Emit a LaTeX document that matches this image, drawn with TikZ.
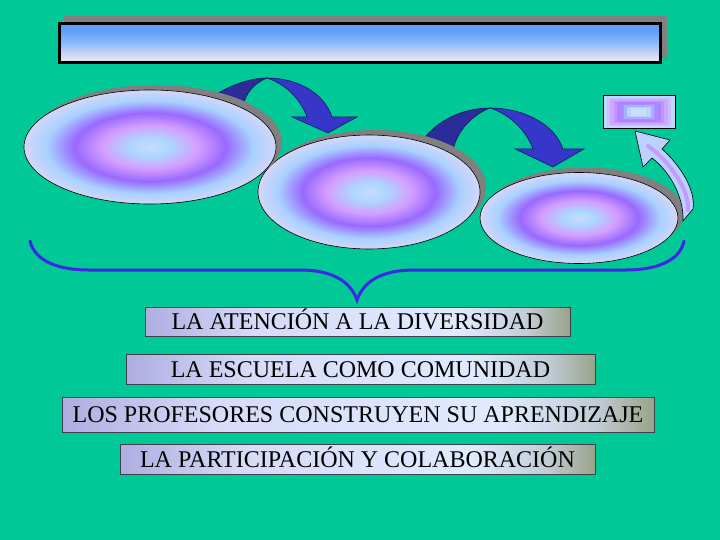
\documentclass[tikz,border=0pt]{standalone}
\usepackage{fontspec}
\setmainfont{Liberation Serif}
\usetikzlibrary{shapes.geometric,calc}
\definecolor{bg}{RGB}{0,200,150}
\definecolor{shadowgray}{RGB}{128,128,128}
\definecolor{arrowdark}{rgb}{0.17,0.17,0.6}
\definecolor{arrowlight}{rgb}{0.21,0.21,0.79}
\definecolor{arrowline}{rgb}{0.08,0.08,0.35}
\definecolor{bracecol}{rgb}{0.25,0.15,0.9}
\definecolor{arrowpale}{rgb}{0.74,0.82,1}
\definecolor{lavender}{rgb}{0.76,0.58,1}
\definecolor{boxline}{rgb}{0.25,0.25,0.3}
\pgfdeclareradialshading{disc}{\pgfpoint{0bp}{0bp}}{rgb(0bp)=(0.78,0.86,1); rgb(4bp)=(0.68,0.84,1); rgb(9.5bp)=(0.83,0.62,1); rgb(15bp)=(0.6,0.41,1); rgb(20.5bp)=(0.66,0.82,1); rgb(25bp)=(0.83,0.84,0.97); rgb(100bp)=(0.83,0.84,0.97)}
\pgfdeclareverticalshading{barshade}{100bp}{rgb(0bp)=(0.9,0.88,0.95); rgb(30bp)=(0.9,0.88,0.95); rgb(52bp)=(0.52,0.72,0.98); rgb(66bp)=(0.38,0.62,0.97); rgb(100bp)=(0.38,0.62,0.97)}
\pgfdeclarehorizontalshading{boxshade}{100bp}{rgb(0bp)=(0.68,0.68,0.88); rgb(25bp)=(0.68,0.68,0.88); rgb(38bp)=(0.84,0.86,0.97); rgb(62bp)=(0.88,0.92,1); rgb(70bp)=(0.76,0.8,0.84); rgb(75bp)=(0.6,0.64,0.54); rgb(100bp)=(0.6,0.64,0.54)}
\tikzset{
  diskshadow/.style={ellipse, fill=shadowgray, inner sep=0pt, outer sep=0pt},
  disk/.style={ellipse, shading=disc, draw=black, line width=0.6pt, inner sep=0pt, outer sep=0pt},
  darkpart/.style={fill=arrowdark, draw=arrowline, line width=0.5pt},
  lightpart/.style={fill=arrowlight, draw=arrowline, line width=0.5pt},
  labelbox/.style={rectangle, shading=boxshade, draw=boxline, line width=0.8pt, inner sep=0pt,
    text height=16pt, text depth=0pt, font=\fontsize{24}{28}\selectfont},
}
\begin{document}
\begin{tikzpicture}[x=1pt,y=-1pt]
\useasboundingbox (0,0) rectangle (720,540);
\fill[bg] (0,0) rectangle (720,540);

% title bar
\node[rectangle, fill=shadowgray, minimum width=603pt, minimum height=42pt, inner sep=0pt] (barshadow) at (365.5,37) {};
\node[rectangle, shading=barshade, draw=black, line width=3pt, minimum width=601pt, minimum height=39pt, inner sep=0pt] (bar) at (360,43) {};

% third disk
\node[diskshadow, minimum width=198pt, minimum height=91pt] (E3s) at (585,213) {};
\node[disk, minimum width=198pt, minimum height=91pt] (E3) at (579,218) {};

% arrow 2
\filldraw[lightpart] (490,108) .. controls (525,108) and (555,125) .. (563,149) -- (584,149) -- (553,167) -- (515,149) -- (533,149) .. controls (525,128) and (508,114) .. (490,108) -- cycle;
\filldraw[darkpart] (422,141) .. controls (438,119) and (464,108) .. (490,108) .. controls (475,114) and (458,128) .. (453,150) -- cycle;

% second disk
\node[diskshadow, minimum width=222pt, minimum height=114pt] (E2s) at (375,187) {};
\node[disk, minimum width=222pt, minimum height=114pt] (E2) at (369,192) {};

% arrow 1
\filldraw[lightpart] (267,78) .. controls (300,78) and (325,95) .. (332,117) -- (357,117) -- (328,133) -- (292,117) -- (307,117) .. controls (300,98) and (285,84) .. (267,78) -- cycle;
\filldraw[darkpart] (210,98) .. controls (230,85) and (250,78) .. (267,78) .. controls (255,83) and (246,92) .. (243,106) -- cycle;

% first disk
\node[diskshadow, minimum width=252pt, minimum height=114pt] (E1s) at (156,142) {};
\node[disk, minimum width=252pt, minimum height=114pt] (E1) at (150,147) {};

% small target rectangle
\node[rectangle, fill={rgb,1:red,0.76;green,0.84;blue,1}, minimum width=72pt, minimum height=32pt, inner sep=0pt] (target) at (639,112) {};
\foreach \s/\r/\g/\b in {0.9/0.78/0.76/1, 0.8/0.8/0.66/1, 0.7/0.76/0.58/1, 0.6/0.68/0.52/1, 0.5/0.66/0.56/1, 0.41/0.67/0.68/1, 0.32/0.72/0.82/1, 0.22/0.78/0.87/1}{
  \fill[fill={rgb,1:red,\r;green,\g;blue,\b}] ($(target.center)+(-36*\s,-16*\s)$) rectangle ($(target.center)+(36*\s,16*\s)$);
}
\draw[black, line width=0.6pt] (target.north west) rectangle (target.south east);

% small curved arrow
\filldraw[fill=arrowpale, draw=black, line width=0.6pt] (683,221) .. controls (684,195) and (668,170) .. (652,158) -- (643,167) -- (635,131) -- (670,140) -- (662,149) .. controls (680,165) and (696,190) .. (693,209) -- cycle;
\draw[lavender, line width=4pt, line cap=round, opacity=0.85] (688,210) .. controls (689,192) and (675,170) .. (657,153) -- (648,146);

% brace
\draw[bracecol, line width=3pt, line cap=round] (30,241) .. controls (35,262) and (60,270) .. (88,270) -- (300,270) .. controls (330,270) and (350,280) .. (357,300) .. controls (364,280) and (384,270) .. (414,270) -- (626,270) .. controls (654,270) and (680,262) .. (684,241);

% labels
\node[labelbox, minimum width=425pt, minimum height=29pt] (t1) at (357.5,321.5) {LA ATENCIÓN A LA DIVERSIDAD};
\node[labelbox, minimum width=469pt, minimum height=30pt] (t2) at (360.5,369) {LA ESCUELA COMO COMUNIDAD};
\node[labelbox, minimum width=592pt, minimum height=35pt] (t3) at (358,414.5) {LOS PROFESORES CONSTRUYEN SU APRENDIZAJE};
\node[labelbox, minimum width=475pt, minimum height=30pt] (t4) at (357.5,459) {LA PARTICIPACIÓN Y COLABORACIÓN};
\end{tikzpicture}
\end{document}
